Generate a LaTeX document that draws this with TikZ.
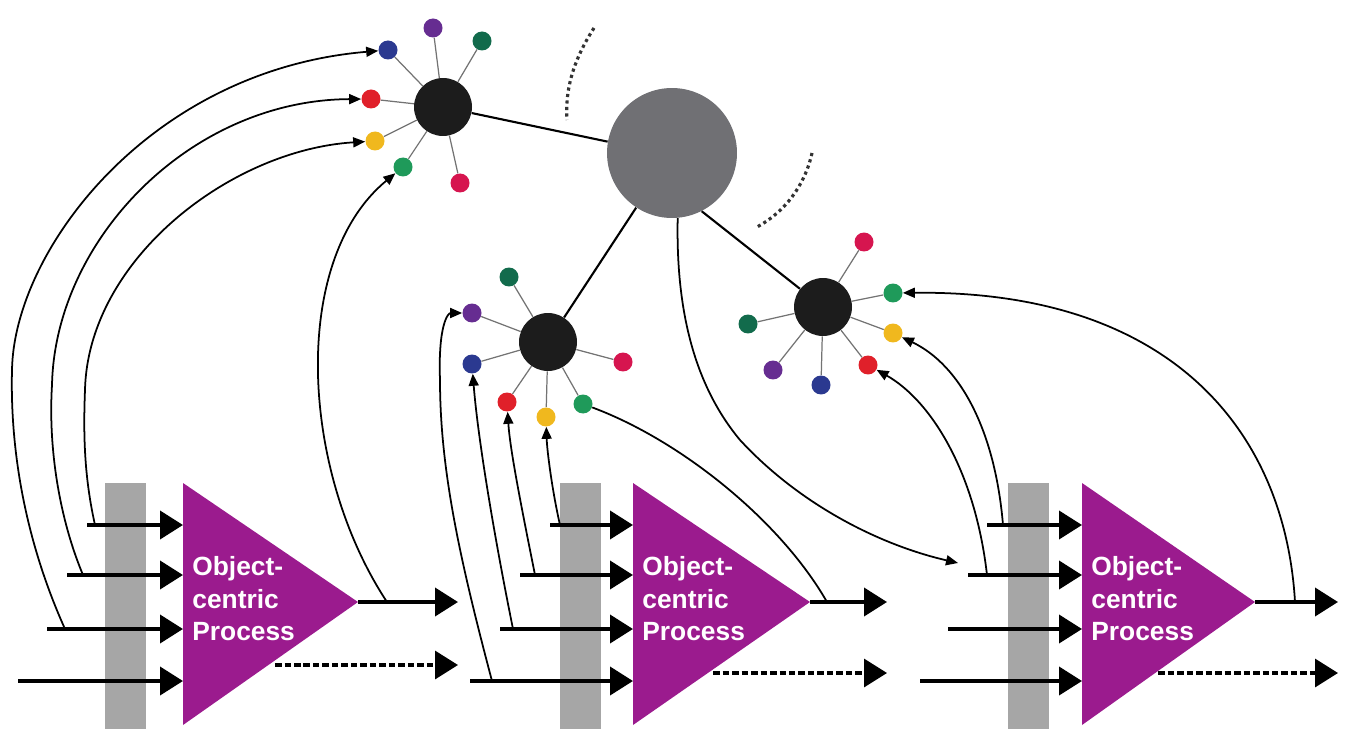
\documentclass[tikz,border=0pt]{standalone}
\usepackage{fontspec}
\setmainfont{Liberation Sans}
\usetikzlibrary{arrows.meta,backgrounds}
\definecolor{procmag}{RGB}{155,27,142}
\definecolor{bargray}{RGB}{166,166,166}
\definecolor{biggray}{RGB}{112,112,116}
\definecolor{hubblack}{RGB}{28,28,28}
\definecolor{cblue}{RGB}{43,57,144}
\definecolor{cpurple}{RGB}{102,45,145}
\definecolor{cdkgreen}{RGB}{18,107,76}
\definecolor{cred}{RGB}{224,32,42}
\definecolor{cyellow}{RGB}{240,184,30}
\definecolor{cgreen}{RGB}{31,154,90}
\definecolor{ccrimson}{RGB}{214,21,79}
\begin{document}
\begin{tikzpicture}[x=0.02cm,y=-0.02cm,
  hub/.style={circle,fill=hubblack,minimum size=1.16cm,inner sep=0pt},
  sat/.style={circle,fill=#1,minimum size=0.38cm,inner sep=0pt},
  spoke/.style={draw=black!55,line width=0.7pt},
  link/.style={line width=1.2pt},
  flow/.style={line width=1pt,-{Triangle[length=0.24cm,width=0.2cm]}},
  flowplain/.style={line width=1pt},
  inarrow/.style={line width=2.2pt,-{Triangle[length=0.46cm,width=0.56cm]}},
  dasharrow/.style={line width=1.9pt,dash pattern=on 0.13cm off 0.06cm,-{Triangle[length=0.46cm,width=0.56cm]}},
  dotarc/.style={line width=1.8pt,dash pattern=on 1.8pt off 1.9pt,black!80},
  barbox/.style={fill=bargray,draw=none,minimum width=0.82cm,minimum height=4.92cm,inner sep=0pt,anchor=north west},
  proclabel/.style={anchor=west,inner sep=0pt,text=white,align=left,font=\fontsize{15}{18.5}\selectfont\bfseries}]
\useasboundingbox (0,0) rectangle (1351,729);

% ---------- hubs and big circle ----------
\node[circle,fill=biggray,minimum size=2.6cm,inner sep=0pt] (G) at (672,153) {};
\node[hub] (H1) at (443,107) {};
\node[hub] (H2) at (548,342) {};
\node[hub] (H3) at (823,307) {};

% satellites of H1
\node[sat=cblue]    (a1) at (388,50) {};
\node[sat=cpurple]  (a2) at (433,28) {};
\node[sat=cdkgreen] (a3) at (482,41) {};
\node[sat=cred]     (a4) at (371,99) {};
\node[sat=cyellow]  (a5) at (375,141) {};
\node[sat=cgreen]   (a6) at (403,167) {};
\node[sat=ccrimson] (a7) at (460,183) {};
% satellites of H2
\node[sat=cdkgreen] (b1) at (509,277) {};
\node[sat=cpurple]  (b2) at (472,313) {};
\node[sat=cblue]    (b3) at (472,364) {};
\node[sat=cred]     (b4) at (507,402) {};
\node[sat=cyellow]  (b5) at (546,417) {};
\node[sat=cgreen]   (b6) at (583,404) {};
\node[sat=ccrimson] (b7) at (623,362) {};
% satellites of H3
\node[sat=ccrimson] (c1) at (864,242) {};
\node[sat=cgreen]   (c2) at (893,293) {};
\node[sat=cyellow]  (c3) at (893,333) {};
\node[sat=cred]     (c4) at (868,365) {};
\node[sat=cblue]    (c5) at (821,385) {};
\node[sat=cpurple]  (c6) at (773,370) {};
\node[sat=cdkgreen] (c7) at (748,324) {};

\begin{scope}[on background layer]
  \foreach \s in {a1,a2,a3,a4,a5,a6,a7} \draw[spoke] (H1) -- (\s);
  \foreach \s in {b1,b2,b3,b4,b5,b6,b7} \draw[spoke] (H2) -- (\s);
  \foreach \s in {c1,c2,c3,c4,c5,c6,c7} \draw[spoke] (H3) -- (\s);
  \draw[link] (H1) -- (G.170);
  \draw[link] (G) -- (H2);
  \draw[link] (G.-63) -- (H3);
\end{scope}

% dotted arcs
\coordinate (d1s) at (594,28);  \coordinate (d1e) at (567,120);
\coordinate (d2s) at (812,153); \coordinate (d2e) at (757,227);
\draw[dotarc] (d1s) .. controls (572,62) and (565,92) .. (d1e);
\draw[dotarc] (d2s) .. controls (805,185) and (785,212) .. (d2e);

% ---------- process blocks ----------
\node[barbox] (bar1) at (105,483) {};
\node[barbox] (bar2) at (560,483) {};
\node[barbox] (bar3) at (1008,483) {};
\fill[procmag] (183,483) -- (183,725) -- (358,602) -- cycle;
\fill[procmag] (633,483) -- (633,725) -- (810,602) -- cycle;
\fill[procmag] (1082,483) -- (1082,725) -- (1255,602) -- cycle;
\node[proclabel] (t1) at (192,599) {Object-\\centric\\Process};
\node[proclabel] (t2) at (642,599) {Object-\\centric\\Process};
\node[proclabel] (t3) at (1091,599) {Object-\\centric\\Process};

% input arrows
\foreach \k/\xa/\xb/\xc/\xd/\xe in {1/87/67/47/18/183, 2/550/520/500/470/633, 3/987/968/948/920/1082}{
  \coordinate (s\k a) at (\xa,525); \coordinate (e\k a) at (\xe,525);
  \coordinate (s\k b) at (\xb,575); \coordinate (e\k b) at (\xe,575);
  \coordinate (s\k c) at (\xc,629); \coordinate (e\k c) at (\xe,629);
  \coordinate (s\k d) at (\xd,681); \coordinate (e\k d) at (\xe,681);
  \draw[inarrow] (s\k a) -- (e\k a);
  \draw[inarrow] (s\k b) -- (e\k b);
  \draw[inarrow] (s\k c) -- (e\k c);
  \draw[inarrow] (s\k d) -- (e\k d);
}
% outputs
\coordinate (o1s) at (358,602);  \coordinate (o1e) at (458,602);
\coordinate (o2s) at (810,602);  \coordinate (o2e) at (887,602);
\coordinate (o3s) at (1255,602); \coordinate (o3e) at (1338,602);
\draw[inarrow] (o1s) -- (o1e);
\draw[inarrow] (o2s) -- (o2e);
\draw[inarrow] (o3s) -- (o3e);
\coordinate (q1s) at (275,665);  \coordinate (q1e) at (458,665);
\coordinate (q2s) at (713,673);  \coordinate (q2e) at (887,673);
\coordinate (q3s) at (1158,673); \coordinate (q3e) at (1338,673);
\draw[dasharrow] (q1s) -- (q1e);
\draw[dasharrow] (q2s) -- (q2e);
\draw[dasharrow] (q3s) -- (q3e);

% ---------- feedback curves ----------
% block 1
\coordinate (j1a) at (95,525);
\coordinate (j1b) at (83,575);
\coordinate (j1c) at (65,629);
\coordinate (j1o) at (387,602);
\draw[flow] (j1c) .. controls (25,540) and (10,450) .. (12,370)
                  .. controls (14,250) and (150,70) .. (a1);
\draw[flow] (j1b) .. controls (60,520) and (48,450) .. (52,385)
                  .. controls (55,240) and (190,100) .. (a4);
\draw[flow] (j1a) .. controls (85,480) and (83,440) .. (85,390)
                  .. controls (88,260) and (230,150) .. (a5);
\draw[flow] (j1o) .. controls (300,470) and (290,260) .. (a6);
% block 2
\coordinate (j2a) at (560,525);
\coordinate (j2b) at (535,575);
\coordinate (j2c) at (513,629);
\coordinate (j2d) at (492,681);
\coordinate (j2o) at (827,602);
\draw[flow] (j2d) .. controls (460,560) and (440,470) .. (440,380)
                  .. controls (438,325) and (448,313) .. (b2);
\draw[flow] (j2c) .. controls (495,540) and (478,440) .. (b3);
\draw[flow] (j2b) .. controls (522,510) and (510,450) .. (b4);
\draw[flow] (j2a) .. controls (552,490) and (547,450) .. (b5);
\draw[flowplain] (b6) .. controls (680,440) and (780,520) .. (j2o);
% big circle to block 3
\coordinate (g3) at (958,563);
\draw[flow] (G.-85) .. controls (676,300) and (690,380) .. (740,440)
                    .. controls (800,505) and (880,545) .. (g3);
% block 3
\coordinate (j3a) at (1003,525);
\coordinate (j3b) at (987,575);
\coordinate (j3o) at (1295,602);
\draw[flow] (j3b) .. controls (975,470) and (930,400) .. (c4);
\draw[flow] (j3a) .. controls (995,430) and (960,365) .. (c3);
\draw[flow] (j3o) .. controls (1285,430) and (1170,290) .. (c2);
\end{tikzpicture}
\end{document}
